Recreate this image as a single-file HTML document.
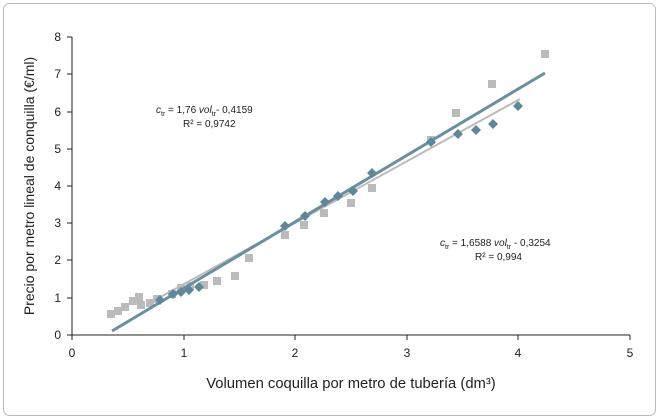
<!DOCTYPE html><html><head><style>body{margin:0;background:#fff}svg{display:block}text{font-family:"Liberation Sans",sans-serif;fill:#222}</style></head><body>
<svg width="659" height="419" viewBox="0 0 659 419">
<rect x="3.5" y="3.5" width="652" height="412" rx="6" fill="#fff" stroke="#bbb"/>
<g stroke="#222" stroke-width="1">
<line x1="72" y1="37" x2="72" y2="335"/><line x1="72" y1="335" x2="630" y2="335"/>
<line x1="67" y1="335" x2="72" y2="335"/><line x1="67" y1="298" x2="72" y2="298"/><line x1="67" y1="260" x2="72" y2="260"/><line x1="67" y1="223" x2="72" y2="223"/><line x1="67" y1="186" x2="72" y2="186"/><line x1="67" y1="149" x2="72" y2="149"/><line x1="67" y1="112" x2="72" y2="112"/><line x1="67" y1="74" x2="72" y2="74"/><line x1="67" y1="37" x2="72" y2="37"/>
<line x1="72" y1="335" x2="72" y2="340"/><line x1="184" y1="335" x2="184" y2="340"/><line x1="295" y1="335" x2="295" y2="340"/><line x1="407" y1="335" x2="407" y2="340"/><line x1="518" y1="335" x2="518" y2="340"/><line x1="630" y1="335" x2="630" y2="340"/>
</g>
<g font-size="12" text-anchor="end">
<text x="61" y="339">0</text><text x="61" y="302">1</text><text x="61" y="264">2</text><text x="61" y="227">3</text><text x="61" y="190">4</text><text x="61" y="153">5</text><text x="61" y="116">6</text><text x="61" y="78">7</text><text x="61" y="41">8</text></g>
<g font-size="12" text-anchor="middle">
<text x="72" y="357">0</text><text x="184" y="357">1</text><text x="295" y="357">2</text><text x="407" y="357">3</text><text x="518" y="357">4</text><text x="630" y="357">5</text></g>
<text x="351" y="388" font-size="14.8" text-anchor="middle">Volumen coquilla por metro de tubería (dm³)</text>
<text transform="translate(34,186) rotate(-90)" font-size="14" text-anchor="middle">Precio por metro lineal de conquilla (€/ml)</text>
<g fill="#bbb">
<rect x="107" y="310" width="8" height="8"/><rect x="114" y="307" width="8" height="8"/><rect x="121" y="303" width="8" height="8"/><rect x="129" y="297" width="8" height="8"/><rect x="135" y="293" width="8" height="8"/><rect x="137" y="301" width="8" height="8"/><rect x="146" y="299" width="8" height="8"/><rect x="153" y="295" width="8" height="8"/><rect x="168" y="290" width="8" height="8"/><rect x="177" y="284" width="8" height="8"/><rect x="186" y="282" width="8" height="8"/><rect x="200" y="281" width="8" height="8"/><rect x="213" y="277" width="8" height="8"/><rect x="231" y="272" width="8" height="8"/><rect x="245" y="254" width="8" height="8"/><rect x="281" y="231" width="8" height="8"/><rect x="300" y="221" width="8" height="8"/><rect x="320" y="209" width="8" height="8"/><rect x="347" y="199" width="8" height="8"/><rect x="368" y="184" width="8" height="8"/><rect x="427" y="136" width="8" height="8"/><rect x="452" y="109" width="8" height="8"/><rect x="488" y="80" width="8" height="8"/><rect x="541" y="50" width="8" height="8"/></g>
<line x1="155" y1="300" x2="520" y2="99" stroke="#bbb" stroke-width="2"/>
<line x1="112" y1="331" x2="545" y2="73" stroke="#6a8fa0" stroke-width="3"/>
<g fill="#5f8799">
<path d="M160 295l5 5-5 5-5-5z"/><path d="M173 289l5 5-5 5-5-5z"/><path d="M181 287l5 5-5 5-5-5z"/><path d="M189 285l5 5-5 5-5-5z"/><path d="M199 282l5 5-5 5-5-5z"/><path d="M285 221l5 5-5 5-5-5z"/><path d="M305 211l5 5-5 5-5-5z"/><path d="M325 197l5 5-5 5-5-5z"/><path d="M338 191l5 5-5 5-5-5z"/><path d="M353 186l5 5-5 5-5-5z"/><path d="M372 168l5 5-5 5-5-5z"/><path d="M431 137l5 5-5 5-5-5z"/><path d="M458 129l5 5-5 5-5-5z"/><path d="M476 125l5 5-5 5-5-5z"/><path d="M493 119l5 5-5 5-5-5z"/><path d="M518 101l5 5-5 5-5-5z"/></g>
<g font-size="10">
<text x="156" y="113"><tspan font-style="italic">c</tspan><tspan font-size="7" dy="3">tr</tspan><tspan dy="-3"> = 1,76 </tspan><tspan font-style="italic">vol</tspan><tspan font-size="7" dy="3">tr</tspan><tspan dy="-3">- 0,4159</tspan></text>
<text x="183" y="127">R² = 0,9742</text>
<text x="440" y="246"><tspan font-style="italic">c</tspan><tspan font-size="7" dy="3">tr</tspan><tspan dy="-3"> = 1,6588 </tspan><tspan font-style="italic">vol</tspan><tspan font-size="7" dy="3">tr</tspan><tspan dy="-3"> - 0,3254</tspan></text>
<text x="475" y="260">R² = 0,994</text></g>
</svg></body></html>
